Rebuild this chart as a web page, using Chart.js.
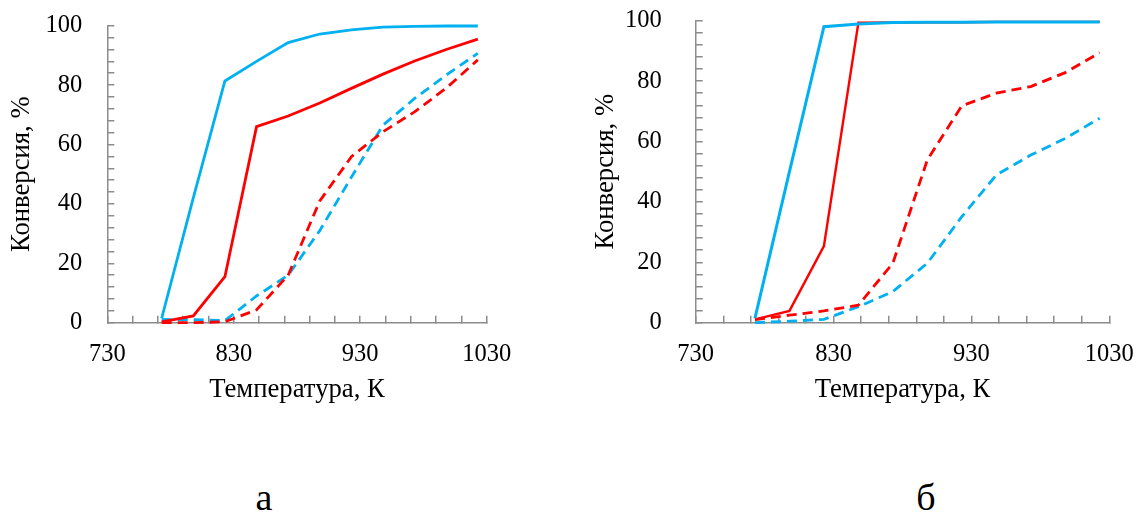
<!DOCTYPE html>
<html>
<head>
<meta charset="utf-8">
<script src="https://cdn.jsdelivr.net/npm/chart.js@4/dist/chart.umd.min.js"></script>
<style>
  html, body { margin: 0; padding: 0; background: #fff; width: 1138px; height: 515px; overflow: hidden; }
  body { position: relative; }
  .panel { position: absolute; top: 0; height: 440px; width: 569px; }
  #boxA { left: 0; }
  #boxB { left: 569px; }
  .cap { position: absolute; font-family: "Liberation Serif", serif; font-size: 38px; color: #000;
         line-height: 1; transform: translate(-50%, -50%); }
</style>
</head>
<body>
<div class="panel" id="boxA"><canvas id="chartA"></canvas></div>
<div class="panel" id="boxB"><canvas id="chartB"></canvas></div>
<div class="cap" style="left:264px; top:497px;">а</div>
<div class="cap" style="left:926px; top:497px;">б</div>
<script>
// Temperature points, K
const temperaturesK = [773, 798, 823, 848, 873, 898, 923, 948, 973, 998, 1023];

// Labelled tick values
const xTickLabels = [730, 830, 930, 1030];
const yTickLabels = [0, 20, 40, 60, 80, 100];

// Panel "а": conversion, %
const aBlueSolid  = [1.5, 42, 81.4, 88, 94.3, 97.2, 98.6, 99.5, 99.8, 99.9, 99.9];
const aRedSolid   = [0.3, 2.3, 15.5, 66, 69.6, 74, 78.9, 83.7, 88.1, 92, 95.5];
const aBlueDashed = [1.1, 1, 0.7, 9, 16, 31, 49, 66.5, 75.5, 83.4, 90.7];
const aRedDashed  = [0, 0, 0.3, 4.3, 16, 41, 55.9, 64.3, 71, 79, 88.5];

// Panel "б": conversion, %
const bBlueSolid  = [1.5, 50, 98, 98.9, 99.4, 99.5, 99.5, 99.6, 99.6, 99.6, 99.6];
const bRedSolid   = [1.1, 3.9, 25.4, 99.3, 99.4, 99.5, 99.5, 99.6, 99.6, 99.6, 99.6];
const bBlueDashed = [0, 0.5, 1.1, 5.3, 10.3, 19.7, 35.1, 48.9, 55.5, 61, 67.7];
const bRedDashed  = [1, 2.5, 3.9, 5.8, 19.7, 53.9, 71.8, 76, 78.2, 82.8, 89.4];

const BLUE = '#00B0F0';
const RED = '#FF0000';
const AXIS = '#8c8c8c';
const FONT = '"Liberation Serif", "Times New Roman", serif';
const TICK_SIZE = 24.5;
const TITLE_SIZE = 26.7;

function points(values) {
  return temperaturesK.map((t, i) => ({ x: t, y: values[i] }));
}

function line(values, color, dashed, order, width) {
  return {
    data: points(values),
    borderColor: color,
    backgroundColor: color,
    borderWidth: width || 2.8,
    borderDash: dashed ? [10, 6] : [],
    borderCapStyle: 'butt',
    borderJoinStyle: 'miter',
    pointRadius: 0,
    tension: 0,
    fill: false,
    clip: 6,
    order: order
  };
}

// Scale boxes keep no extra label padding, so the layout padding alone places the plot area
function dropPadding(s) {
  s.paddingTop = 0; s.paddingBottom = 0; s.paddingLeft = 0; s.paddingRight = 0;
}

function makeChart(id, datasets, g) {
  const W = 569, H = 440;
  const half = TITLE_SIZE * 1.2 / 2;
  return new Chart(document.getElementById(id), {
    type: 'line',
    data: { datasets },
    options: {
      responsive: true,
      maintainAspectRatio: false,
      animation: false,
      devicePixelRatio: 1,
      layout: { padding: { left: 0, top: g.top, right: W - g.right, bottom: 0 } },
      plugins: { legend: { display: false }, tooltip: { enabled: false } },
      scales: {
        x: {
          type: 'linear',
          position: 'bottom',
          min: 730, max: 1030,
          ticks: {
            stepSize: 20,
            autoSkip: false,
            maxRotation: 0,
            padding: 24,
            color: '#000',
            font: { family: FONT, size: TICK_SIZE },
            callback: v => xTickLabels.includes(Math.round(v)) ? String(Math.round(v)) : ''
          },
          grid: { display: true, drawOnChartArea: false, drawTicks: true, tickLength: -7,
                  color: AXIS, lineWidth: 1.5 },
          border: { display: true, color: AXIS, width: 1.5 },
          title: {
            display: true, text: 'Температура, К', color: '#000',
            font: { family: FONT, size: TITLE_SIZE },
            padding: { top: 0, bottom: H - g.xTitleY - half }
          },
          afterFit: s => { s.height = H - g.bottom; dropPadding(s); }
        },
        y: {
          type: 'linear',
          min: 0, max: 100,
          ticks: {
            stepSize: 4,
            autoSkip: false,
            padding: g.yLabelGap + 7,
            color: '#000',
            font: { family: FONT, size: TICK_SIZE },
            callback: v => yTickLabels.includes(Math.round(v)) ? String(Math.round(v)) : ''
          },
          grid: { display: true, drawOnChartArea: false, drawTicks: true, tickLength: -7,
                  color: AXIS, lineWidth: 1.5 },
          border: { display: true, color: AXIS, width: 1.5 },
          title: {
            display: true, text: 'Конверсия, %', color: '#000',
            font: { family: FONT, size: TITLE_SIZE },
            padding: { top: g.yTitleX - half, bottom: 0 }
          },
          afterFit: s => { s.width = g.left; dropPadding(s); }
        }
      }
    }
  });
}

makeChart('chartA', [
  line(aBlueSolid, BLUE, false, 0),
  line(aRedSolid, RED, false, 1),
  line(aRedDashed, RED, true, 2),
  line(aBlueDashed, BLUE, true, 3)
], { left: 107.3, right: 486.7, top: 25.7, bottom: 322.7, yLabelGap: 25, yTitleX: 22, xTitleY: 390 });

// The red solid line runs under the blue one near 100 %, so it is drawn a little thinner
makeChart('chartB', [
  line(bBlueSolid, BLUE, false, 0, 3),
  line(bRedSolid, RED, false, 1, 2.4),
  line(bRedDashed, RED, true, 2),
  line(bBlueDashed, BLUE, true, 3)
], { left: 126.7, right: 540.3, top: 20.7, bottom: 322.7, yLabelGap: 34, yTitleX: 37, xTitleY: 390 });
</script>
</body>
</html>
